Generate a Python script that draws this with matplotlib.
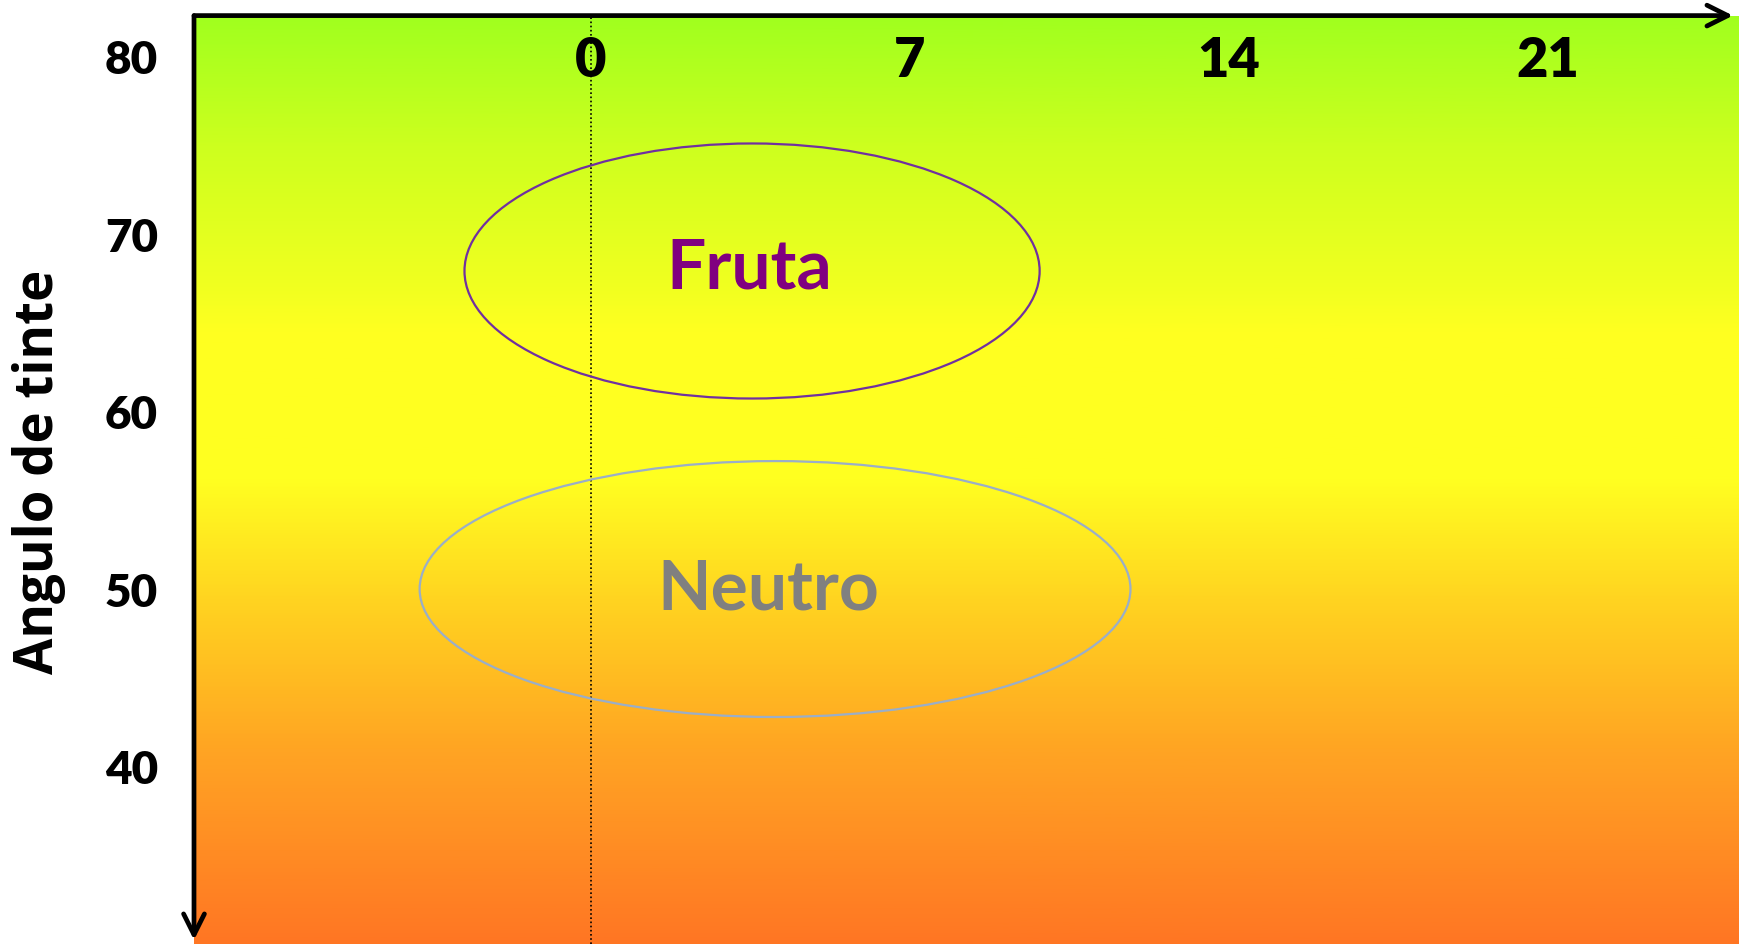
import numpy as np
import matplotlib
matplotlib.use("Agg")
import matplotlib.pyplot as plt
from matplotlib.patches import Ellipse
from matplotlib.colors import LinearSegmentedColormap

# ---- data ----
x_ticks = [0, 7, 14, 21]
x_tick_labels = ["0", "7", "14", "21"]
y_ticks = [40, 50, 60, 70, 80]
y_tick_labels = ["40", "50", "60", "70", "80"]
y_label = "Angulo de tinte"
region_names = ["Fruta", "Neutro"]
region_cx = [3.535, 4.04]
region_cy = [67.89, 49.97]
region_w = [12.63, 15.61]
region_h = [14.37, 14.42]
label_x = [3.47, 3.90]
label_y = [66.96, 48.85]
ref_line_x = 0

# ---- style ----
text_colors = ["#800080", "#808080"]
edge_colors = ["#7030A0", "#9AAEC8"]
xlim = (-8.72, 25.23)
ylim = (29.97, 82.28)

fig = plt.figure(figsize=(17.4, 9.45), dpi=100)
ax = fig.add_axes([194 / 1740, 0.0, 1 - 194 / 1740, (945 - 16.6) / 945])
ax.set_xlim(*xlim)
ax.set_ylim(*ylim)

# vertical gradient background
stops = [
    (0.00, (255, 118, 35)),
    (0.21, (255, 165, 35)),
    (0.37, (255, 212, 32)),
    (0.50, (255, 255, 32)),
    (0.66, (255, 255, 32)),
    (0.70, (243, 255, 32)),
    (0.86, (205, 255, 30)),
    (1.00, (160, 255, 30)),
]
cmap = LinearSegmentedColormap.from_list(
    "grad", [(t, tuple(c / 255 for c in rgb)) for t, rgb in stops])
grad = np.linspace(0, 1, 512).reshape(-1, 1)
ax.imshow(grad, cmap=cmap, aspect="auto", origin="lower",
          extent=[xlim[0], xlim[1], ylim[0], ylim[1]], zorder=0)

# dotted reference line
ax.axvline(ref_line_x, color="black", linestyle=(0, (1, 1.5)), linewidth=1.2, zorder=2)

# ellipses + labels
for name, cx, cy, w, h, lx, ly, tc, ec in zip(region_names, region_cx, region_cy,
                                               region_w, region_h, label_x, label_y,
                                               text_colors, edge_colors):
    ax.add_patch(Ellipse((cx, cy), w, h, fill=False, edgecolor=ec, linewidth=1.6, zorder=3))
    ax.text(lx, ly, name, color=tc, fontsize=50, fontweight="bold", family="Lato",
            ha="center", va="baseline", zorder=4)

# axes: hide spines, draw arrows
for s in ax.spines.values():
    s.set_visible(False)
arrow_style = "->,head_length=1.5,head_width=0.75"
ax.annotate("", xy=(0.9955, 1.0), xytext=(0.0, 1.0), xycoords="axes fraction",
            arrowprops=dict(arrowstyle=arrow_style, color="black", lw=3.4,
                            shrinkA=0, shrinkB=0),
            annotation_clip=False, zorder=5)
ax.annotate("", xy=(0.0, 0.0043), xytext=(0.0, 1.0), xycoords="axes fraction",
            arrowprops=dict(arrowstyle=arrow_style, color="black", lw=3.4,
                            shrinkA=0, shrinkB=0),
            annotation_clip=False, zorder=5)

# ticks
ax.xaxis.tick_top()
ax.set_xticks(x_ticks)
ax.set_xticklabels(x_tick_labels, fontsize=39, fontweight="heavy", family="Lato")
ax.tick_params(axis="x", length=0, pad=-50, top=True, bottom=False,
               labeltop=True, labelbottom=False)
ax.set_yticks(y_ticks)
ax.set_yticklabels(y_tick_labels, fontsize=33, fontweight="heavy", family="Lato")
ax.tick_params(axis="y", length=0, pad=26)

fig.text(39 / 1740, 1 - 471.6 / 945, y_label, rotation=90, ha="center", va="center",
         fontsize=38, fontweight="bold", family="Open Sans")

fig.savefig("out.png", dpi=100)
